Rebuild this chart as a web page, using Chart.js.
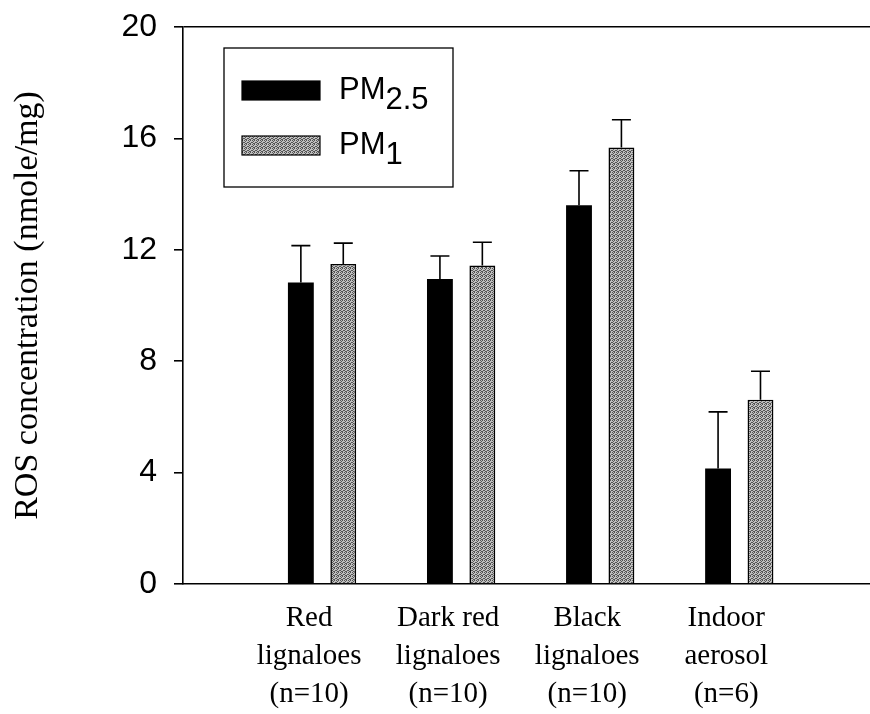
<!DOCTYPE html>
<html>
<head>
<meta charset="utf-8">
<script src="https://cdn.jsdelivr.net/npm/chart.js@4.4.1/dist/chart.umd.min.js"></script>
<style>
  html, body { margin: 0; padding: 0; background: #fff; }
  #wrap { position: relative; width: 870px; height: 714px; }
</style>
</head>
<body>
<div id="wrap"><canvas id="ros"></canvas></div>
<script>
/* ---------- data ---------- */
var categories = [
  ['Red', 'lignaloes', '(n=10)'],
  ['Dark red', 'lignaloes', '(n=10)'],
  ['Black', 'lignaloes', '(n=10)'],
  ['Indoor', 'aerosol', '(n=6)']
];
var categoryPos = [1, 2, 3, 4];
var pm25 = [10.83, 10.95, 13.6, 4.15];
var pm25Err = [1.32, 0.83, 1.24, 2.03];
var pm1 = [11.49, 11.44, 15.67, 6.62];
var pm1Err = [0.75, 0.83, 1.0, 1.02];
var yTicks = [0, 4, 8, 12, 16, 20];

/* stippled grey fill like the scanned original */
function stipple() {
  var c = document.createElement('canvas');
  c.width = 4; c.height = 4;
  var g = c.getContext('2d');
  g.fillStyle = '#c0c0c0';
  g.fillRect(0, 0, 4, 4);
  g.fillStyle = '#555';
  [[0, 0], [2, 0], [1, 1], [3, 2], [0, 2], [2, 3], [1, 3]].forEach(function (p) { g.fillRect(p[0], p[1], 1, 1); });
  return g.createPattern(c, 'repeat');
}
var greyFill = stipple();

function points(vals) {
  return vals.map(function (v, i) { return { x: categoryPos[i], y: v }; });
}

/* upper error bars, drawn through the y scale */
var errorBars = {
  id: 'errorBars',
  afterDatasetsDraw: function (chart) {
    var ctx = chart.ctx, ys = chart.scales.y;
    chart.data.datasets.forEach(function (ds, di) {
      var meta = chart.getDatasetMeta(di);
      meta.data.forEach(function (bar, i) {
        var top = ys.getPixelForValue(ds.data[i].y + ds.errors[i]);
        ctx.save();
        ctx.strokeStyle = '#000';
        ctx.lineWidth = 1.6;
        ctx.beginPath();
        ctx.moveTo(bar.x, bar.y);
        ctx.lineTo(bar.x, top);
        ctx.moveTo(bar.x - 9.5, top);
        ctx.lineTo(bar.x + 9.5, top);
        ctx.stroke();
        ctx.restore();
      });
    });
  }
};

/* boxed legend with PM subscripts */
var pmLegend = {
  id: 'pmLegend',
  afterDraw: function (chart) {
    var ctx = chart.ctx, a = chart.chartArea;
    var bx = a.left + 41, by = a.top + 21;
    ctx.save();
    ctx.strokeStyle = '#000';
    ctx.lineWidth = 1.3;
    ctx.strokeRect(bx, by, 229, 139);

    var rows = [
      { fill: '#000', sub: '2.5', y: by + 33 },
      { fill: greyFill, sub: '1', y: by + 88 }
    ];
    rows.forEach(function (r) {
      ctx.fillStyle = r.fill;
      ctx.fillRect(bx + 18, r.y, 78, 19);
      ctx.strokeStyle = '#000';
      ctx.lineWidth = 1.2;
      ctx.strokeRect(bx + 18, r.y, 78, 19);
      ctx.fillStyle = '#000';
      ctx.font = '31px "Liberation Sans", Arial, sans-serif';
      ctx.textBaseline = 'alphabetic';
      ctx.textAlign = 'left';
      var tx = bx + 115;
      ctx.fillText('PM', tx, r.y + 18);
      var w = ctx.measureText('PM').width;
      ctx.fillText(r.sub, tx + w, r.y + 28);
    });
    ctx.restore();
  }
};

new Chart(document.getElementById('ros'), {
  type: 'bar',
  data: {
    datasets: [{
      label: 'PM2.5',
      data: points(pm25),
      errors: pm25Err,
      backgroundColor: '#000',
      borderColor: '#000',
      borderWidth: 0
    }, {
      label: 'PM1',
      data: points(pm1),
      errors: pm1Err,
      backgroundColor: greyFill,
      borderColor: '#000',
      borderWidth: 1.6
    }]
  },
  options: {
    responsive: true,
    maintainAspectRatio: false,
    animation: false,
    categoryPercentage: 0.61,
    barPercentage: 0.61,
    layout: { padding: { top: 27, right: 0, left: 0, bottom: 0 } },
    plugins: { legend: { display: false }, tooltip: { enabled: false } },
    scales: {
      x: {
        type: 'linear',
        offset: false,
        min: 0,
        max: 4.94,
        grid: { display: false },
        border: { display: true, color: '#000', width: 1.6 },
        afterFit: function (s) {
          s.height = 130;
          s.paddingLeft = 0; s.paddingRight = 0;
        },
        afterBuildTicks: function (s) {
          s.ticks = categoryPos.map(function (v) { return { value: v }; });
        },
        ticks: {
          autoSkip: false,
          maxRotation: 0,
          padding: 8,
          labelOffset: -13,
          color: '#000',
          font: { family: '"Liberation Serif", "Times New Roman", serif', size: 29, lineHeight: 1.3 },
          callback: function (v) {
            var i = categoryPos.indexOf(v);
            return i < 0 ? '' : categories[i];
          }
        }
      },
      y: {
        min: 0,
        max: 20,
        afterFit: function (s) {
          s.width = 183;
          s.paddingTop = 0; s.paddingBottom = 0;
        },
        afterBuildTicks: function (s) {
          s.ticks = yTicks.map(function (v) { return { value: v }; });
        },
        grid: {
          drawOnChartArea: true,
          tickLength: 9,
          tickColor: '#000',
          lineWidth: 1.6,
          color: function (c) { return c.tick && c.tick.value === 20 ? '#000' : 'rgba(0,0,0,0)'; }
        },
        border: { display: true, color: '#000', width: 1.6 },
        ticks: {
          padding: 17,
          color: '#000',
          font: { family: '"Liberation Sans", Arial, sans-serif', size: 32 }
        },
        title: {
          display: true,
          text: 'ROS concentration (nmole/mg)',
          color: '#000',
          padding: { top: 8, bottom: 0 },
          font: { family: '"Liberation Serif", "Times New Roman", serif', size: 34 }
        }
      }
    }
  },
  plugins: [errorBars, pmLegend]
});
</script>
</body>
</html>
